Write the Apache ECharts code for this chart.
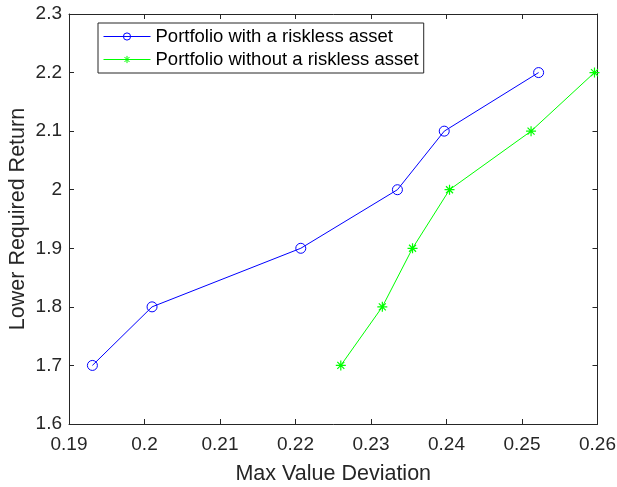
<!DOCTYPE html>
<html><head><meta charset="utf-8">
<script src="https://cdn.jsdelivr.net/npm/echarts@6/dist/echarts.min.js"></script>
<style>html,body{margin:0;padding:0;background:#fff}#c{width:617px;height:487px}</style>
</head><body><div id="c"></div>
<script>
const seriesNames = ['Portfolio with a riskless asset', 'Portfolio without a riskless asset'];
const returns = [1.7, 1.8, 1.9, 2.0, 2.1, 2.2];
const devWithRiskless = [0.1931, 0.2010, 0.2207, 0.2335, 0.2397, 0.2522];
const devWithoutRiskless = [0.2260, 0.2315, 0.2355, 0.2404, 0.2512, 0.2596];
const xTicks = [0.19, 0.2, 0.21, 0.22, 0.23, 0.24, 0.25, 0.26];
const yTicks = [1.6, 1.7, 1.8, 1.9, 2, 2.1, 2.2, 2.3];

const axisColor = '#262626';
const font = 'Liberation Sans, Arial, Helvetica, sans-serif';
const star = 'path://M5 0L5 10M0 5L10 5M1.5 1.5L8.5 8.5M8.5 1.5L1.5 8.5';

function baseAxis(ticks, extra) {
  return Object.assign({
    type: 'value',
    min: ticks[0], max: ticks[ticks.length - 1],
    interval: Math.round((ticks[1] - ticks[0]) * 1000) / 1000,
    axisLine: { show: true, onZero: false, lineStyle: { color: axisColor, width: 1 } },
    axisTick: { show: true, inside: true, length: 5, lineStyle: { color: axisColor } },
    splitLine: { show: false },
    axisLabel: { color: axisColor, fontSize: 19, fontFamily: font }
  }, extra);
}

const chart = echarts.init(document.getElementById('c'), null, { renderer: 'canvas' });
chart.setOption({
  backgroundColor: '#fff',
  animation: false,
  grid: { left: 69, right: 19.5, top: 14, bottom: 63, containLabel: false, outerBoundsMode: 'none' },
  xAxis: [
    baseAxis(xTicks, {
      position: 'bottom',
      name: 'Max Value Deviation', nameLocation: 'middle', nameGap: 39, nameMoveOverlap: false,
      nameTextStyle: { color: axisColor, fontSize: 21.5, fontFamily: font },
      axisLabel: { color: axisColor, fontSize: 19, fontFamily: font, margin: 11 }
    }),
    baseAxis(xTicks, { position: 'top', axisLabel: { show: false } })
  ],
  yAxis: [
    baseAxis(yTicks, {
      position: 'left',
      name: 'Lower Required Return', nameLocation: 'middle', nameGap: 40, nameMoveOverlap: false,
      nameTextStyle: { color: axisColor, fontSize: 21.5, fontFamily: font },
      axisLabel: { color: axisColor, fontSize: 19, fontFamily: font, margin: 7 }
    }),
    baseAxis(yTicks, { position: 'right', axisLabel: { show: false } })
  ],
  legend: {
    left: 98, top: 23, orient: 'vertical',
    backgroundColor: '#fff',
    borderColor: axisColor, borderWidth: 1,
    padding: [4, 5, 4, 5], itemGap: 4,
    itemWidth: 47, itemHeight: 9,
    lineStyle: { width: 1 },
    itemStyle: { borderWidth: 1 },
    textStyle: { color: '#000', fontSize: 18.5, fontFamily: font, padding: [0, 0, 0, 0] },
    data: seriesNames
  },
  series: [
    {
      name: seriesNames[0], type: 'line',
      data: devWithRiskless.map((x, i) => [x, returns[i]]),
      symbol: 'circle', symbolSize: 10,
      lineStyle: { color: '#0000ff', width: 1 },
      itemStyle: { color: 'rgba(0,0,0,0)', borderColor: '#0000ff', borderWidth: 1 }
    },
    {
      name: seriesNames[1], type: 'line',
      data: devWithoutRiskless.map((x, i) => [x, returns[i]]),
      symbol: star, symbolSize: 10,
      lineStyle: { color: '#00ff00', width: 1 },
      itemStyle: { color: '#00ff00', borderColor: '#00ff00', borderWidth: 1.2 }
    }
  ]
});
</script></body></html>
